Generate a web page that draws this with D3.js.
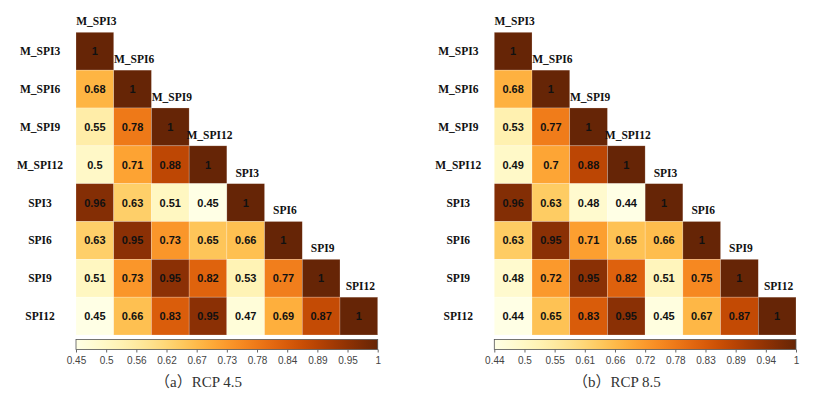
<!DOCTYPE html>
<html>
<head>
<meta charset="utf-8">
<script src="https://cdn.jsdelivr.net/npm/d3@7"></script>
<style>
body { margin: 0; background: #fff; }
.serif { font-family: "Liberation Serif", "Times New Roman", serif; }
.sans { font-family: "Liberation Sans", Arial, sans-serif; }
.cjk { font-family: "Noto Sans CJK SC", sans-serif; }
</style>
</head>
<body>
<svg id="chart" width="815" height="393"></svg>
<script>
// variable names, rows and columns of the lower triangle
var vars = ["M_SPI3", "M_SPI6", "M_SPI9", "M_SPI12", "SPI3", "SPI6", "SPI9", "SPI12"];

var rcp45 = [
  [1],
  [0.68, 1],
  [0.55, 0.78, 1],
  [0.5, 0.71, 0.88, 1],
  [0.96, 0.63, 0.51, 0.45, 1],
  [0.63, 0.95, 0.73, 0.65, 0.66, 1],
  [0.51, 0.73, 0.95, 0.82, 0.53, 0.77, 1],
  [0.45, 0.66, 0.83, 0.95, 0.47, 0.69, 0.87, 1]
];

var rcp85 = [
  [1],
  [0.68, 1],
  [0.53, 0.77, 1],
  [0.49, 0.7, 0.88, 1],
  [0.96, 0.63, 0.48, 0.44, 1],
  [0.63, 0.95, 0.71, 0.65, 0.66, 1],
  [0.48, 0.72, 0.95, 0.82, 0.51, 0.75, 1],
  [0.44, 0.65, 0.83, 0.95, 0.45, 0.67, 0.87, 1]
];

var ticks45 = ["0.45", "0.5", "0.56", "0.62", "0.67", "0.73", "0.78", "0.84", "0.89", "0.95", "1"];
var ticks85 = ["0.44", "0.5", "0.55", "0.61", "0.66", "0.72", "0.78", "0.83", "0.89", "0.94", "1"];

var range45 = [0.45, 1];
var range85 = [0.44, 1];

var svg = d3.select("#chart");

draw(rcp45, range45, ticks45, ["a", "RCP 4.5"], 0, "g45");
draw(rcp85, range85, ticks85, ["b", "RCP 8.5"], 418.3, "g85");

function draw(matrix, domain, tickLabels, caption, dx, id) {

  var g = svg.append("g").attr("transform", "translate(" + dx + ",0)");

  var x = d3.scaleBand().domain(vars).range([76, 377.7]);
  var y = d3.scaleBand().domain(vars).range([32.3, 335]);
  var color = d3.scaleSequential(d3.interpolateYlOrBr).domain(domain);

  var cells = [];
  matrix.forEach(function(row, i) {
    row.forEach(function(v, j) {
      cells.push({ r: vars[i], c: vars[j], v: v });
    });
  });

  g.selectAll("rect.cell")
    .data(cells)
    .enter().append("rect")
    .attr("class", "cell")
    .attr("x", function(d) { return x(d.c); })
    .attr("y", function(d) { return y(d.r); })
    .attr("width", x.bandwidth())
    .attr("height", y.bandwidth())
    .attr("fill", function(d) { return color(d.v); })
    .attr("stroke", "#fff")
    .attr("stroke-opacity", 0.35)
    .attr("stroke-width", 0.6);

  g.selectAll("text.val")
    .data(cells)
    .enter().append("text")
    .attr("class", "val sans")
    .attr("x", function(d) { return x(d.c) + x.bandwidth() / 2; })
    .attr("y", function(d) { return y(d.r) + y.bandwidth() / 2; })
    .attr("dy", "0.36em")
    .attr("text-anchor", "middle")
    .style("font-weight", "bold")
    .style("font-size", "11px")
    .attr("fill", "#111")
    .text(function(d) { return d.v; });

  // row labels
  g.selectAll("text.row")
    .data(vars)
    .enter().append("text")
    .attr("class", "row serif")
    .attr("x", 40)
    .attr("y", function(d) { return y(d) + y.bandwidth() / 2; })
    .attr("dy", "0.35em")
    .attr("text-anchor", "middle")
    .style("font-weight", "bold")
    .style("font-size", "11.5px")
    .attr("fill", "#111")
    .text(function(d) { return d; });

  // column labels on the diagonal
  g.selectAll("text.col")
    .data(vars)
    .enter().append("text")
    .attr("class", "col serif")
    .attr("x", function(d) { return x(d) + x.bandwidth() / 2 + 1.5; })
    .attr("y", function(d) { return y(d) - 7; })
    .attr("text-anchor", "middle")
    .style("font-weight", "bold")
    .style("font-size", "11.5px")
    .attr("fill", "#111")
    .text(function(d) { return d; });

  // colour bar
  var barX = x.range();
  var grad = svg.append("defs").append("linearGradient")
    .attr("id", id)
    .attr("x1", "0%").attr("x2", "100%");
  d3.range(0, 1.0001, 0.05).forEach(function(t) {
    grad.append("stop")
      .attr("offset", (t * 100) + "%")
      .attr("stop-color", color(domain[0] + t * (domain[1] - domain[0])));
  });

  g.append("rect")
    .attr("x", barX[0])
    .attr("y", 339.5)
    .attr("width", barX[1] - barX[0])
    .attr("height", 10)
    .attr("fill", "url(#" + id + ")")
    .attr("stroke", "#555")
    .attr("stroke-width", 0.8);

  var tx = d3.scalePoint().domain(tickLabels).range(barX);
  var axis = d3.axisBottom(tx).tickSize(3).tickPadding(4);
  var ax = g.append("g")
    .attr("transform", "translate(0,349.5)")
    .call(axis);
  ax.select(".domain").remove();
  ax.selectAll("line").attr("stroke", "#666");
  ax.selectAll("text")
    .attr("class", "sans")
    .attr("font-family", null)
    .style("font-size", "10px")
    .attr("fill", "#444");

  var cap = g.append("text")
    .attr("class", "serif")
    .attr("x", 198.5)
    .attr("y", 387)
    .attr("text-anchor", "middle")
    .style("font-size", "15px")
    .attr("fill", "#333");
  cap.append("tspan").attr("class", "cjk").text("（");
  cap.append("tspan").attr("class", "serif").text(caption[0]);
  cap.append("tspan").attr("class", "cjk").text("）");
  cap.append("tspan").attr("class", "serif").text(caption[1]);
}
</script>
</body>
</html>
